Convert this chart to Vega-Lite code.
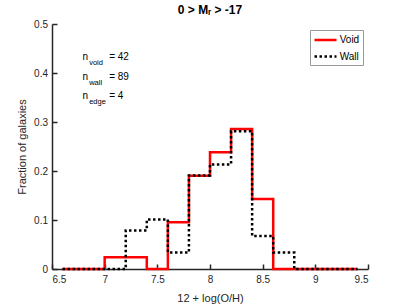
{
  "$schema": "https://vega.github.io/schema/vega-lite/v6.json",
  "autosize": {"type": "none"},
  "width": 316,
  "height": 245,
  "padding": {"left": 52, "top": 24, "right": 39, "bottom": 36},
  "background": "white",
  "config": {
    "font": "Liberation Sans",
    "view": {"stroke": null},
    "title": {"font": "Liberation Sans", "fontSize": 12, "fontWeight": "bold", "color": "#000000", "anchor": "middle", "offset": 2},
    "axis": {
      "grid": false,
      "domainColor": "#262626",
      "domainWidth": 1.5,
      "tickColor": "#262626",
      "tickWidth": 1.5,
      "tickSize": -5,
      "labelFont": "Liberation Sans",
      "labelFontSize": 10,
      "labelColor": "#262626",
      "titleFont": "Liberation Sans",
      "titleFontSize": 11,
      "titleFontWeight": "normal",
      "titleColor": "#262626"
    },
    "legend": {
      "labelFont": "Liberation Sans",
      "labelFontSize": 10,
      "labelColor": "#000000"
    }
  },
  "title": {"text": "0 > Mᵣ > -17"},
  "datasets": {
    "hist": [
      {"oh": 6.6, "frac": 0, "sample": "Void"},
      {"oh": 6.8, "frac": 0, "sample": "Void"},
      {"oh": 7.0, "frac": 0.0238, "sample": "Void"},
      {"oh": 7.2, "frac": 0.0238, "sample": "Void"},
      {"oh": 7.4, "frac": 0, "sample": "Void"},
      {"oh": 7.6, "frac": 0.0952, "sample": "Void"},
      {"oh": 7.8, "frac": 0.1905, "sample": "Void"},
      {"oh": 8.0, "frac": 0.2381, "sample": "Void"},
      {"oh": 8.2, "frac": 0.2857, "sample": "Void"},
      {"oh": 8.4, "frac": 0.1429, "sample": "Void"},
      {"oh": 8.6, "frac": 0, "sample": "Void"},
      {"oh": 8.8, "frac": 0, "sample": "Void"},
      {"oh": 9.0, "frac": 0, "sample": "Void"},
      {"oh": 9.2, "frac": 0, "sample": "Void"},
      {"oh": 9.4, "frac": 0, "sample": "Void"},
      {"oh": 6.6, "frac": 0, "sample": "Wall"},
      {"oh": 6.8, "frac": 0, "sample": "Wall"},
      {"oh": 7.0, "frac": 0, "sample": "Wall"},
      {"oh": 7.2, "frac": 0.0787, "sample": "Wall"},
      {"oh": 7.4, "frac": 0.1011, "sample": "Wall"},
      {"oh": 7.6, "frac": 0.0337, "sample": "Wall"},
      {"oh": 7.8, "frac": 0.191, "sample": "Wall"},
      {"oh": 8.0, "frac": 0.2135, "sample": "Wall"},
      {"oh": 8.2, "frac": 0.2809, "sample": "Wall"},
      {"oh": 8.4, "frac": 0.0674, "sample": "Wall"},
      {"oh": 8.6, "frac": 0.0337, "sample": "Wall"},
      {"oh": 8.8, "frac": 0, "sample": "Wall"},
      {"oh": 9.0, "frac": 0, "sample": "Wall"},
      {"oh": 9.2, "frac": 0, "sample": "Wall"},
      {"oh": 9.4, "frac": 0, "sample": "Wall"}
    ],
    "counts": [
      {"ns": ["n", "n", "n"], "subs": ["void", "wall", "edge"], "eqs": ["= 42", "= 89", "= 4"]}
    ]
  },
  "layer": [
    {
      "data": {"name": "hist"},
      "mark": {"type": "line", "interpolate": "step-after", "strokeWidth": 2.5, "strokeCap": "butt", "clip": false},
      "encoding": {
        "x": {
          "field": "oh", "type": "quantitative",
          "scale": {"domain": [6.5, 9.5], "nice": false, "zero": false},
          "axis": {"values": [6.5, 7, 7.5, 8, 8.5, 9, 9.5], "format": "~g", "title": "12 + log(O/H)", "labelPadding": 10, "titlePadding": 8}
        },
        "y": {
          "field": "frac", "type": "quantitative",
          "scale": {"domain": [0, 0.5], "nice": false},
          "axis": {"values": [0, 0.1, 0.2, 0.3, 0.4, 0.5], "format": "~g", "title": "Fraction of galaxies", "labelPadding": 9.5, "titlePadding": 6}
        },
        "color": {
          "field": "sample", "type": "nominal",
          "scale": {"domain": ["Void", "Wall"], "range": ["#ff0000", "#000000"]},
          "legend": {
            "title": null, "orient": "none", "legendX": 258, "legendY": 6,
            "symbolType": "M-1,0H3", "symbolSize": 121, "symbolStrokeWidth": 2.5,
            "strokeColor": "#999999", "fillColor": "#ffffff", "padding": 3,
            "rowPadding": 4.5, "labelOffset": 12.7
          }
        },
        "strokeDash": {
          "field": "sample", "type": "nominal",
          "scale": {"domain": ["Void", "Wall"], "range": [[1, 0], [2.5, 2.5]]},
          "legend": {
            "title": null, "orient": "none", "legendX": 258, "legendY": 6,
            "symbolType": "M-1,0H3", "symbolSize": 121, "symbolStrokeWidth": 2.5,
            "strokeColor": "#999999", "fillColor": "#ffffff", "padding": 3,
            "rowPadding": 4.5, "labelOffset": 12.7
          }
        }
      }
    },
    {
      "data": {"name": "counts"},
      "mark": {"type": "text", "align": "left", "baseline": "alphabetic", "fontSize": 10, "lineHeight": 19.7, "color": "#000000"},
      "encoding": {
        "x": {"datum": 6.79},
        "y": {"datum": 0.4265},
        "text": {"field": "ns", "type": "nominal"}
      }
    },
    {
      "data": {"name": "counts"},
      "mark": {"type": "text", "align": "left", "baseline": "alphabetic", "fontSize": 7.5, "lineHeight": 19.7, "dx": 6.6, "dy": 5, "color": "#000000"},
      "encoding": {
        "x": {"datum": 6.79},
        "y": {"datum": 0.4265},
        "text": {"field": "subs", "type": "nominal"}
      }
    },
    {
      "data": {"name": "counts"},
      "mark": {"type": "text", "align": "left", "baseline": "alphabetic", "fontSize": 10, "lineHeight": 19.7, "dx": 26.6, "color": "#000000"},
      "encoding": {
        "x": {"datum": 6.79},
        "y": {"datum": 0.4265},
        "text": {"field": "eqs", "type": "nominal"}
      }
    }
  ]
}
